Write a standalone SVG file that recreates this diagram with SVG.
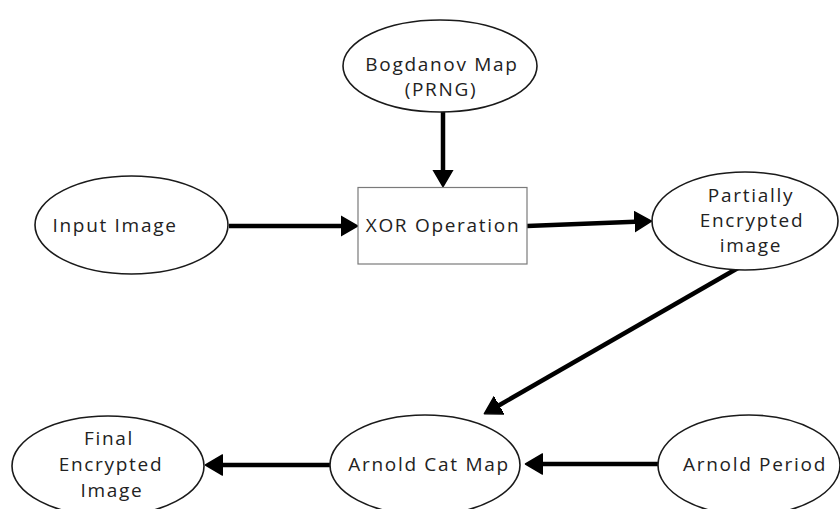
<svg xmlns="http://www.w3.org/2000/svg" width="840" height="509" viewBox="0 0 840 509">
  <style>
    .node ellipse { fill: #ffffff; stroke: #1a1a1a; stroke-width: 1.6; }
    .node rect { fill: #ffffff; stroke: #7a7a7a; stroke-width: 1.2; }
    .node text { font-family: "Open Sans", "Noto Sans", sans-serif; font-size: 19px; letter-spacing: 1.7px; fill: #222222; text-anchor: middle; }
    .edge { fill: none; stroke: #000000; stroke-width: 4.5; marker-end: url(#head); }
  </style>
  <defs>
    <marker id="head" markerUnits="userSpaceOnUse" viewBox="0 -11 19 22" markerWidth="19" markerHeight="22" refX="0.5" refY="0" orient="auto">
      <path d="M0,-10 L17,0 L0,10 Z" fill="#000000" stroke="#000000" stroke-width="1.5" stroke-linejoin="round"/>
    </marker>
  </defs>
  <rect width="840" height="509" fill="#ffffff"/>

  <g id="connectors">
    <line class="edge" x1="443" y1="112" x2="443" y2="170"/>
    <line class="edge" x1="229" y1="226" x2="341" y2="226"/>
    <line class="edge" x1="527" y1="226" x2="635" y2="221.7"/>
    <line class="edge" x1="738" y1="268" x2="498.7" y2="405.5"/>
    <line class="edge" x1="330" y1="465" x2="222" y2="465"/>
    <line class="edge" x1="658" y1="464" x2="542" y2="464"/>
  </g>

  <g id="bogdanov" class="node">
    <ellipse cx="440" cy="66" rx="97" ry="46"/>
    <text x="442" y="71">Bogdanov Map</text>
    <text x="441" y="96">(PRNG)</text>
  </g>

  <g id="input" class="node">
    <ellipse cx="131.5" cy="225" rx="96.5" ry="49"/>
    <text x="115" y="232">Input Image</text>
  </g>

  <g id="xor" class="node">
    <rect x="358" y="187.5" width="169" height="76.5"/>
    <text x="443" y="232">XOR Operation</text>
  </g>

  <g id="partial" class="node">
    <ellipse cx="745" cy="221" rx="93" ry="49"/>
    <text x="751" y="202">Partially</text>
    <text x="752" y="227">Encrypted</text>
    <text x="751" y="252">image</text>
  </g>

  <g id="catmap" class="node">
    <ellipse cx="425" cy="465" rx="95" ry="50"/>
    <text x="429" y="471">Arnold Cat Map</text>
  </g>

  <g id="final" class="node">
    <ellipse cx="108" cy="466" rx="96" ry="50"/>
    <text x="109" y="445">Final</text>
    <text x="111" y="471">Encrypted</text>
    <text x="112" y="497">Image</text>
  </g>

  <g id="period" class="node">
    <ellipse cx="749" cy="465" rx="91" ry="50"/>
    <text x="755" y="471">Arnold Period</text>
  </g>
</svg>
